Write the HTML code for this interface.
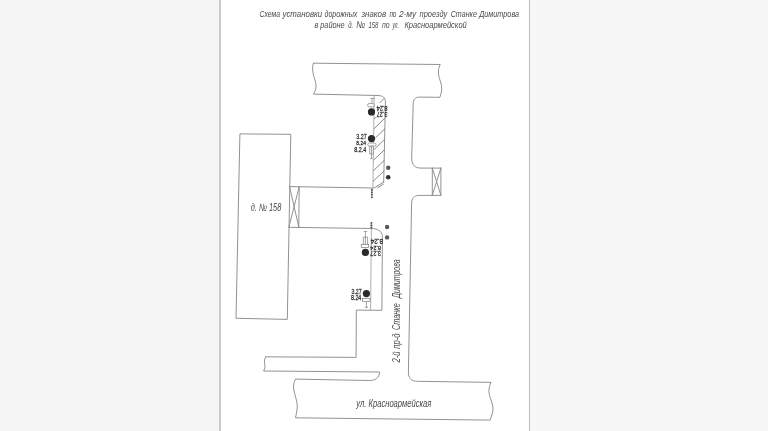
<!DOCTYPE html>
<html lang="ru">
<head>
<meta charset="utf-8">
<title>Схема установки дорожных знаков</title>
<style>
html,body{margin:0;padding:0;background:#f5f5f5;overflow:hidden}
body{width:768px;height:431px;position:relative;font-family:"Liberation Sans",sans-serif}
#page{position:absolute;left:219px;top:0;width:308px;height:431px;background:#fff;border-left:2px solid #c9c9c9;border-right:1.5px solid #b9b9b9;box-sizing:content-box}
#rt{position:absolute;left:530px;top:0;width:238px;height:431px;background:#f7f7f7}
svg{position:absolute;left:0;top:0;width:768px;height:431px;will-change:transform}
text{font-family:"Liberation Sans",sans-serif;font-style:italic;fill:#4a4a4a}
.ln{fill:none;stroke:#8c8c8c;stroke-width:0.95;stroke-linecap:round;stroke-linejoin:round}
.thin{fill:none;stroke:#9a9a9a;stroke-width:0.8}
.hatch{fill:none;stroke:#7a7a7a;stroke-width:0.9}
.sg{fill:#fff;stroke:#8a8a8a;stroke-width:0.8}
.num{font-style:normal;font-size:6.6px;fill:#333;stroke:#333;stroke-width:0.28}
</style>
</head>
<body>
<div id="rt"></div><div id="page"></div>
<svg viewBox="0 0 768 431" width="768" height="431">
<!-- title -->
<text font-size="9.8"><tspan x="259.5" y="16.5" textLength="20.5" lengthAdjust="spacingAndGlyphs">Схема</tspan> <tspan x="282.5" y="16.5" textLength="39.6" lengthAdjust="spacingAndGlyphs">установки</tspan> <tspan x="324.5" y="16.5" textLength="32.9" lengthAdjust="spacingAndGlyphs">дорожных</tspan> <tspan x="361.4" y="16.5" textLength="24.7" lengthAdjust="spacingAndGlyphs">знаков</tspan> <tspan x="389.4" y="16.5" textLength="7.0" lengthAdjust="spacingAndGlyphs">по</tspan> <tspan x="398.9" y="16.5" textLength="17.3" lengthAdjust="spacingAndGlyphs">2-му</tspan> <tspan x="419.6" y="16.5" textLength="27.6" lengthAdjust="spacingAndGlyphs">проезду</tspan> <tspan x="450.7" y="16.5" textLength="26.2" lengthAdjust="spacingAndGlyphs">Станке</tspan> <tspan x="479.2" y="16.5" textLength="39.9" lengthAdjust="spacingAndGlyphs">Димитрова</tspan></text>
<text font-size="9.8"><tspan x="314.4" y="27.7" textLength="3.8" lengthAdjust="spacingAndGlyphs">в</tspan> <tspan x="320.3" y="27.7" textLength="24.4" lengthAdjust="spacingAndGlyphs">районе</tspan> <tspan x="348.2" y="27.7" textLength="5.0" lengthAdjust="spacingAndGlyphs">д.</tspan> <tspan x="356.1" y="27.7" textLength="8.9" lengthAdjust="spacingAndGlyphs">№</tspan> <tspan x="368.5" y="27.7" textLength="9.9" lengthAdjust="spacingAndGlyphs">158</tspan> <tspan x="381.9" y="27.7" textLength="7.6" lengthAdjust="spacingAndGlyphs">по</tspan> <tspan x="392.5" y="27.7" textLength="6.4" lengthAdjust="spacingAndGlyphs">ул.</tspan> <tspan x="404.4" y="27.7" textLength="62.4" lengthAdjust="spacingAndGlyphs">Красноармейской</tspan></text>

<!-- top cross street + right edge of the passage -->
<path class="ln" d="M313.4,63.2 L440.2,64.5 C438.6,68 438,71 438.6,75 C439.4,80 442,84 441.8,89 C441.6,92 440.6,95 439.9,97.3 L419.5,97.1 C415.2,97.1 413.2,99.5 413.2,104 L411.7,158 C411.7,164.5 414.5,168.1 421,168.1 L440.9,168.1"/>
<path class="ln" d="M313.4,63.2 C312.4,66 312.3,69 313,73 C313.9,78 316.3,82 316.1,87 C315.9,90 314.4,92 313.4,94.1 L378,95.5 C383,95.6 385.4,98 385.4,102 L383.7,182"/>
<!-- hatch strip -->
<path class="thin" d="M374.2,95.6 L372.9,188.2"/>
<path class="hatch" d="M379.6,103 L384.6,98 M373.9,119.1 L376.4,116.9 M374,128.8 L385.1,117.9 M375.4,137.9 L385,128.6 M373.7,149.9 L384.9,139 M373.5,160.3 L384.6,149.5 M373.3,170.8 L384.4,160.2 M373.1,181.3 L384.2,170.8 M373.6,188.4 L384,181.8 M377.6,187.8 L383.7,184"/>
<!-- kiosk on the right -->
<path class="ln" d="M432.3,168.1 L432.3,195.4 L440.9,195.4 L440.9,168.1 M432.3,168.1 L440.9,195.4 M440.9,168.1 L432.3,195.4"/>
<path class="ln" d="M432.3,195.4 L419,195.4 C414,195.4 411.6,198.3 411.6,203.5 L408.4,372 C408.4,378 411,381.3 417.5,381.3 L490.8,382.4"/>

<!-- building -->
<path class="ln" d="M240.3,133.9 L290.8,134.3 L287.3,319.4 L236.4,318.3 Z"/>
<path class="ln" d="M289.6,186.6 L373,188 M299.2,186.7 L298.8,227.2 M289.6,186.6 L298.8,227.2 M299.2,186.7 L288.9,227"/>
<path class="ln" d="M288.9,227.3 L371.3,228.5 C377.5,228.6 382.4,231.2 382.4,236.4 L381.9,310.3 L356.3,310.1 L356.1,357.4 L265.7,356.8"/>
<path class="thin" d="M371.4,228.5 L370.6,310.3"/>
<text x="250.7" y="211" font-size="10.4" textLength="30.6" lengthAdjust="spacingAndGlyphs">д. № 158</text>

<!-- lower-left block -->
<path class="ln" d="M265.7,356.8 C264.6,359 264.2,361 264.6,363.5 C265,366 265.4,368 263.6,371 L379,372"/>
<!-- Krasnoarmeyskaya street -->
<path class="ln" d="M379.6,372.3 C379.4,377.5 375.5,380.6 369.5,380.5 L295.5,379.1 C294,382 293.2,385 293.7,389 C294.5,395 297.5,401 297.3,407 C297.1,411 296,415 295.5,417.8 L490.2,420.1 C491.5,416 493.2,412 493,408 C492.7,402 489,397 488.9,391.5 C488.9,388 490,385 490.8,382.4"/>
<text x="356.2" y="406.6" font-size="10.4" textLength="75.2" lengthAdjust="spacingAndGlyphs">ул. Красноармейская</text>
<text transform="translate(400.2,362.5) rotate(-90)" font-size="10.6"><tspan x="0" y="0" textLength="11.1" lengthAdjust="spacingAndGlyphs">2-й</tspan> <tspan x="13.7" y="0" textLength="15.3" lengthAdjust="spacingAndGlyphs">пр-д</tspan> <tspan x="32.6" y="0" textLength="26.7" lengthAdjust="spacingAndGlyphs">Станке</tspan> <tspan x="64.6" y="0" textLength="38.6" lengthAdjust="spacingAndGlyphs">Димитрова</tspan></text>

<!-- small post dots -->
<g fill="#555">
<circle cx="371.9" cy="189.9" r="1.05"/><circle cx="371.9" cy="192.4" r="1.05"/><circle cx="371.9" cy="194.8" r="1.05"/><circle cx="371.9" cy="197.2" r="1.05"/>
<circle cx="371.4" cy="223" r="1.05"/><circle cx="371.4" cy="225.3" r="1.05"/><circle cx="371.4" cy="227.4" r="1.05"/>
</g>
<!-- gray markers -->
<circle cx="388.2" cy="167.7" r="2.2" fill="#5a5a5a"/>
<circle cx="388.2" cy="177.3" r="2.3" fill="#333"/>
<circle cx="387.1" cy="227" r="2.2" fill="#5a5a5a"/>
<circle cx="387.1" cy="237.4" r="2.2" fill="#5a5a5a"/>

<!-- sign 1 (top) -->
<path class="sg" d="M370.4,98.4 L374.8,98.4 M372,98.4 L372,103.4"/>
<rect class="sg" x="367.6" y="103.5" width="6.8" height="3.4" rx="1.7"/>
<circle cx="371.5" cy="111.9" r="3.6" fill="#2a2a2a"/>
<text class="num" transform="translate(387.6,106.1) rotate(180)" textLength="11" lengthAdjust="spacingAndGlyphs">8.24</text>
<text class="num" transform="translate(387.4,111.9) rotate(180)" textLength="10.6" lengthAdjust="spacingAndGlyphs">3.27</text>

<!-- sign 2 -->
<circle cx="371.5" cy="138.6" r="3.6" fill="#2a2a2a"/>
<rect class="sg" x="367.8" y="143" width="8.2" height="3.1" rx="1.5"/>
<path class="sg" d="M369.7,146.2 H373.3 V154 H369.7 Z M371.5,146.2 V158.3 M369.8,158.3 H372.6"/>
<text class="num" x="356.3" y="138.6" style="font-size:7.4px" textLength="10.3" lengthAdjust="spacingAndGlyphs">3.27</text>
<text class="num" x="356.3" y="144.6" style="font-size:6.2px" textLength="9.8" lengthAdjust="spacingAndGlyphs">8.24</text>
<text class="num" x="354.3" y="152.1" style="font-size:6.7px" textLength="11.9" lengthAdjust="spacingAndGlyphs">8.2.4</text>

<!-- sign 3 -->
<path class="sg" d="M363.7,231.5 H367.2 M365.4,231.5 V244.4 M363.3,237.1 H367.6 V244.4 H363.3 Z"/>
<rect class="sg" x="361.3" y="244.4" width="7.2" height="3.1"/>
<circle cx="365.4" cy="252.4" r="3.6" fill="#2a2a2a"/>
<text class="num" transform="translate(383,238.7) rotate(180)" style="font-size:6.9px" textLength="12.2" lengthAdjust="spacingAndGlyphs">8.24</text>
<text class="num" transform="translate(381,246.3) rotate(180)" style="font-size:6.2px" textLength="10.7" lengthAdjust="spacingAndGlyphs">8.24</text>
<text class="num" transform="translate(381,251.4) rotate(180)" style="font-size:7px" textLength="10.7" lengthAdjust="spacingAndGlyphs">3.27</text>

<!-- sign 4 -->
<circle cx="366.4" cy="293.6" r="3.6" fill="#2a2a2a"/>
<rect class="sg" x="362.5" y="298.4" width="7.6" height="2.9"/>
<path class="sg" d="M366.4,301.4 V307.3 M364.8,307.3 H368"/>
<text class="num" x="351.5" y="293.8" style="font-size:7.6px" textLength="10.2" lengthAdjust="spacingAndGlyphs">3.27</text>
<text class="num" x="351" y="299.7" style="font-size:6.5px" textLength="10.3" lengthAdjust="spacingAndGlyphs">8.24</text>
</svg>
</body>
</html>
